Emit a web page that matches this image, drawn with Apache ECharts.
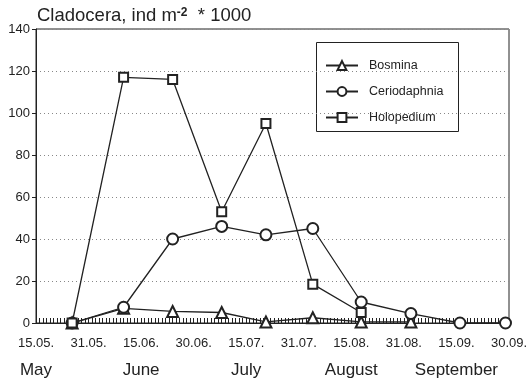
<!DOCTYPE html>
<html>
<head>
<meta charset="utf-8">
<script src="https://cdn.jsdelivr.net/npm/echarts@6/dist/echarts.min.js"></script>
<style>
  html, body { margin: 0; padding: 0; background: #fff; }
  #chart { width: 532px; height: 379px; }
</style>
</head>
<body>
<div id="chart"></div>
<script>
// Axis tick labels (half-month steps) and month names under them
const dateTicks = ['15.05.', '31.05.', '15.06.', '30.06.', '15.07.', '31.07.', '15.08.', '31.08.', '15.09.', '30.09.'];
const monthNames = ['May', 'June', 'July', 'August', 'September'];

// Sampling dates (dd.mm)
const sampleDates = ['26.05', '10.06', '24.06', '08.07', '21.07', '04.08', '18.08', '02.09', '16.09', '29.09'];

// Abundance, ind m-2 * 1000
const bosmina      = [0, 7, 5.5, 5, 0.5, 2.5, 0.5, 0.5];
const ceriodaphnia = [0, 7.5, 40, 46, 42, 45, 10, 4.5, 0, 0];
const holopedium   = [0, 117, 116, 53, 95, 18.5, 5];

const FONT = 'Liberation Sans, Arial, sans-serif';
const INK = '#222';

// day of year for a 'dd.mm' string (non-leap year)
const monthStart = [0, 31, 59, 90, 120, 151, 181, 212, 243, 273, 304, 334];
function dayOfYear(s) {
  const [d, m] = s.replace(/\.$/, '').split('.').map(Number);
  return monthStart[m - 1] + d;
}
const tickDays = dateTicks.map(dayOfYear);

// position on the half-month axis (tick i sits at i)
function axisPos(s) {
  const d = dayOfYear(s);
  for (let i = 0; i < tickDays.length - 1; i++) {
    if (d <= tickDays[i + 1]) {
      return i + (d - tickDays[i]) / (tickDays[i + 1] - tickDays[i]);
    }
  }
  return tickDays.length - 1;
}
const toPoints = vals => vals.map((v, i) => [axisPos(sampleDates[i]), v]);

const lineSeries = (name, symbol, size, vals) => ({
  name, type: 'line', data: toPoints(vals),
  symbol, symbolSize: size, showAllSymbol: true,
  lineStyle: { color: INK, width: 1.3 },
  itemStyle: { color: INK, borderColor: INK, borderWidth: 1.2 },
  emphasis: { disabled: true },
  animation: false
});

const chart = echarts.init(document.getElementById('chart'), null, { renderer: 'canvas' });
chart.setOption({
  backgroundColor: '#fff',
  animation: false,
  title: {
    text: 'Cladocera, ind m{sup|-2}  * 1000',
    left: 32, top: 1,
    textStyle: {
      fontFamily: FONT, fontSize: 18.5, fontWeight: 'normal', color: INK, lineHeight: 20,
      rich: {
        sup: { fontFamily: FONT, fontSize: 12, fontWeight: 'bold', color: INK, verticalAlign: 'top', lineHeight: 12, padding: [1, 0, 0, 0] }
      }
    }
  },
  grid: {
    left: 36, top: 29, width: 473, height: 294,
    show: true, borderColor: INK, borderWidth: 1, backgroundColor: 'transparent'
  },
  legend: {
    orient: 'vertical', left: 325, top: 59, padding: 0,
    itemWidth: 32, itemHeight: 11, itemGap: 13,
    textStyle: { fontFamily: FONT, fontSize: 12.5, color: INK, padding: [0, 0, 0, 6] },
    data: ['Bosmina', 'Ceriodaphnia', 'Holopedium']
  },
  graphic: [{
    type: 'rect', silent: true,
    shape: { x: 316.5, y: 42.5, width: 142, height: 89 },
    style: { fill: 'none', stroke: INK, lineWidth: 1 }
  }],
  xAxis: [{
    type: 'value', min: 0, max: dateTicks.length - 1, interval: 1,
    axisLine: { show: true, lineStyle: { color: INK, width: 1 } },
    axisTick: { show: true, inside: true, length: 5, lineStyle: { color: INK } },
    minorTick: { show: true, splitNumber: 15, length: 5, lineStyle: { color: INK, width: 1 } },
    splitLine: { show: false },
    axisLabel: {
      fontFamily: FONT, fontSize: 13, color: INK, margin: 14,
      formatter: v => dateTicks[Math.round(v)] || ''
    }
  }, {
    type: 'value', position: 'bottom', offset: 27,
    min: 0, max: dateTicks.length - 1, interval: 2,
    axisLine: { show: false }, axisTick: { show: false }, splitLine: { show: false },
    axisLabel: {
      fontFamily: FONT, fontSize: 17, color: INK, margin: 12,
      formatter: v => monthNames[Math.round(v / 2)] || ''
    }
  }],
  yAxis: {
    type: 'value', min: 0, max: 140, interval: 20,
    axisLine: { show: true, lineStyle: { color: INK, width: 1 } },
    axisTick: { show: true, inside: false, length: 4, lineStyle: { color: INK } },
    splitLine: { show: true, lineStyle: { color: '#888', width: 1, type: [1, 3] } },
    axisLabel: { fontFamily: FONT, fontSize: 13, color: INK, margin: 6 }
  },
  series: [
    lineSeries('Bosmina', 'emptyTriangle', 11, bosmina),
    lineSeries('Ceriodaphnia', 'emptyCircle', 11, ceriodaphnia),
    lineSeries('Holopedium', 'emptyRect', 9, holopedium)
  ]
});
</script>
</body>
</html>
